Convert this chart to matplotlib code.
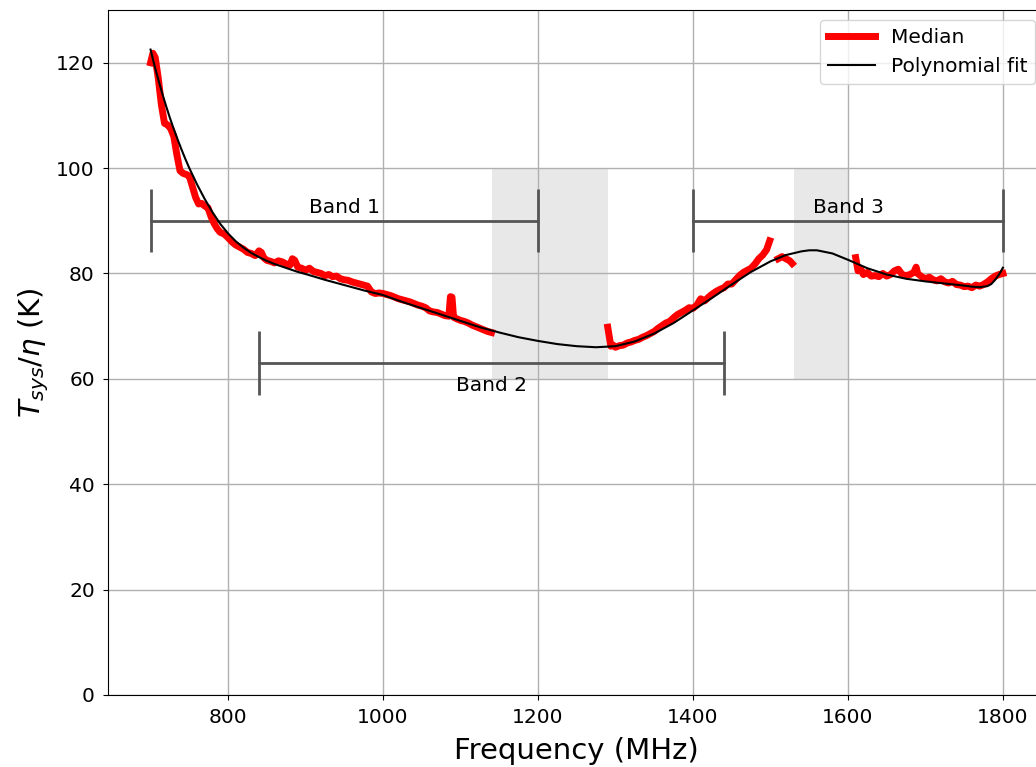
import numpy as np
import matplotlib
matplotlib.use("Agg")
import matplotlib.pyplot as plt

# median Tsys/eta, three pieces (gaps = RFI-flagged ranges)
freq_a = [700, 703, 706, 710, 714, 718, 722, 726, 730, 734, 738, 742, 746, 750, 754, 758, 762,
          766, 770, 774, 778, 782, 786, 790, 795, 800, 805, 810, 815, 820, 825, 830, 835, 840,
          843, 846, 850, 855, 860, 865, 870, 875, 880, 883, 886, 890, 895, 900, 905, 910, 915,
          920, 925, 930, 935, 940, 945, 950, 955, 960, 965, 970, 975, 980, 985, 990, 995, 1000,
          1005, 1010, 1015, 1020, 1025, 1030, 1035, 1040, 1045, 1050, 1055, 1060, 1065, 1070,
          1075, 1080, 1085, 1087, 1089, 1091, 1095, 1100, 1105, 1110, 1115, 1120, 1125, 1130,
          1135, 1140]
tsys_a = [120.0, 121.8, 121.0, 117.0, 112.0, 108.5, 108.2, 107.5, 106.0, 102.5, 99.5, 99.0,
          98.8, 98.5, 96.5, 94.5, 93.2, 93.3, 92.8, 92.5, 90.8, 89.5, 88.5, 87.8, 87.5, 86.8,
          86.0, 85.4, 85.0, 84.6, 84.0, 83.8, 83.4, 84.3, 84.0, 83.0, 82.5, 82.3, 82.0, 82.4,
          82.2, 81.8, 81.6, 82.8, 82.5, 81.2, 81.0, 80.6, 81.0, 80.4, 80.2, 80.0, 79.6, 79.8,
          79.4, 79.5, 79.0, 78.8, 78.7, 78.4, 78.2, 78.0, 77.8, 77.6, 76.5, 76.2, 76.3, 76.2,
          76.0, 75.8, 75.5, 75.2, 75.0, 74.8, 74.6, 74.3, 74.0, 73.8, 73.5, 72.9, 72.7, 72.6,
          72.3, 72.0, 71.9, 75.6, 75.5, 71.7, 71.4, 71.1, 70.9, 70.6, 70.2, 69.9, 69.6, 69.3,
          69.0, 68.8]

freq_b = [1290, 1292, 1294, 1297, 1300, 1305, 1310, 1315, 1320, 1325, 1330, 1335, 1340, 1345,
          1350, 1355, 1360, 1365, 1370, 1375, 1380, 1385, 1390, 1395, 1400, 1405, 1410, 1415,
          1420, 1425, 1430, 1435, 1440, 1445, 1450, 1455, 1460, 1465, 1470, 1475, 1480, 1485,
          1490, 1495, 1499, np.nan, 1510, 1515, 1520, 1525, 1528]
tsys_b = [69.8, 68.0, 66.2, 66.4, 66.0, 66.3, 66.4, 66.8, 67.0, 67.3, 67.5, 67.9, 68.2, 68.6,
          69.0, 69.6, 70.1, 70.6, 70.9, 71.6, 72.2, 72.6, 73.0, 73.5, 73.4, 74.0, 75.2, 74.8,
          75.5, 76.1, 76.6, 77.0, 77.3, 78.0, 78.0, 78.8, 79.6, 80.2, 80.6, 81.0, 81.8, 82.8,
          83.5, 84.5, 86.2, np.nan, 82.8, 83.2, 82.8, 82.4, 81.9]

freq_c = [1610, 1613, 1616, 1620, 1625, 1630, 1635, 1640, 1645, 1650, 1655, 1660, 1665, 1670,
          1675, 1680, 1685, 1688, 1690, 1695, 1700, 1705, 1710, 1715, 1720, 1725, 1730, 1735,
          1740, 1745, 1750, 1755, 1760, 1765, 1770, 1775, 1780, 1785, 1790, 1795, 1800]
tsys_c = [83.0, 80.5, 81.0, 79.8, 80.2, 79.5, 79.6, 79.4, 80.0, 79.5, 79.8, 80.5, 80.8, 79.8,
          79.6, 79.8, 80.2, 81.2, 80.0, 79.4, 79.0, 79.3, 78.8, 78.6, 79.0, 78.4, 78.2, 78.5,
          77.9, 77.8, 77.5, 77.6, 77.3, 77.8, 77.6, 77.9, 78.4, 79.0, 79.5, 79.8, 80.0]

# polynomial fit
fit_freq = [700, 705, 710, 715, 720, 725, 730, 735, 740, 745, 750, 760, 770, 780, 790, 800, 810,
            820, 830, 840, 850, 860, 870, 880, 890, 900, 925, 950, 975, 1000, 1025, 1050, 1075,
            1100, 1125, 1150, 1175, 1200, 1225, 1250, 1275, 1300, 1325, 1350, 1375, 1400, 1425,
            1450, 1475, 1500, 1520, 1540, 1550, 1560, 1580, 1600, 1625, 1650, 1675, 1700, 1725,
            1750, 1760, 1770, 1780, 1785, 1790, 1795, 1800]
fit_tsys = [122.5, 119.5, 116.8, 114.2, 111.8, 109.5, 107.4, 105.4, 103.5, 101.7, 100.0, 96.9,
            94.1, 91.6, 89.4, 87.6, 86.1, 84.9, 83.9, 83.1, 82.4, 81.8, 81.3, 80.8, 80.3, 79.9,
            78.8, 77.8, 76.8, 75.9, 74.6, 73.4, 72.2, 71.0, 69.8, 68.8, 67.9, 67.2, 66.6, 66.2,
            66.0, 66.2, 67.1, 68.6, 70.6, 73.0, 75.4, 77.9, 80.3, 82.3, 83.5, 84.2, 84.4, 84.4,
            83.8, 82.6, 81.0, 79.8, 79.0, 78.5, 78.1, 77.7, 77.5, 77.4, 77.6, 78.0, 78.8, 79.8,
            81.1]

# observing bands: (start, stop, y of bar, label)
bands_lo = [700, 840, 1400]
bands_hi = [1200, 1440, 1800]
bands_y = [90, 63, 90]
band_names = ["Band 1", "Band 2", "Band 3"]

# flagged (shaded) ranges
flag_lo = [1140, 1530]
flag_hi = [1290, 1600]

plt.rcParams["font.family"] = "DejaVu Sans"
fig = plt.figure(figsize=(10.36, 7.67), dpi=100)
ax = fig.add_axes([0.1042, 0.0939, 0.905, 0.893])

for lo, hi in zip(flag_lo, flag_hi):
    ax.fill_between([lo, hi], 60, 100, color="#e8e8e8", lw=0, zorder=0)

ax.plot(freq_a, tsys_a, color="red", lw=5, label="Median", zorder=3)
ax.plot(freq_b, tsys_b, color="red", lw=5, zorder=3)
ax.plot(freq_c, tsys_c, color="red", lw=5, zorder=3)
ax.plot(fit_freq, fit_tsys, color="black", lw=1.5, label="Polynomial fit", zorder=4)

for lo, hi, y, name in zip(bands_lo, bands_hi, bands_y, band_names):
    ax.plot([lo, hi], [y, y], color="#555555", lw=2, zorder=2)
    ax.vlines([lo, hi], y - 6, y + 6, color="#555555", lw=2, zorder=2)
    if y > 80:
        ax.text((lo + hi) / 2, y + 0.8, name, ha="center", va="bottom", fontsize=14.5)
    else:
        ax.text((lo + hi) / 2, y - 2.5, name, ha="center", va="top", fontsize=14.5)

ax.set_xlim(645, 1855)
ax.set_ylim(0, 130)
ax.set_xticks([800, 1000, 1200, 1400, 1600, 1800])
ax.set_yticks([0, 20, 40, 60, 80, 100, 120])
ax.tick_params(labelsize=14.5, pad=6)
ax.grid(True, color="#b0b0b0", lw=1, zorder=1)
ax.set_axisbelow(True)
ax.set_xlabel("Frequency (MHz)", fontsize=21, labelpad=7)
ax.set_ylabel(r"$T_{sys}/\eta$ (K)", fontsize=21)
ax.legend(loc="upper right", fontsize=14.5, handlelength=2.3)

fig.savefig("out.png", dpi=100)
